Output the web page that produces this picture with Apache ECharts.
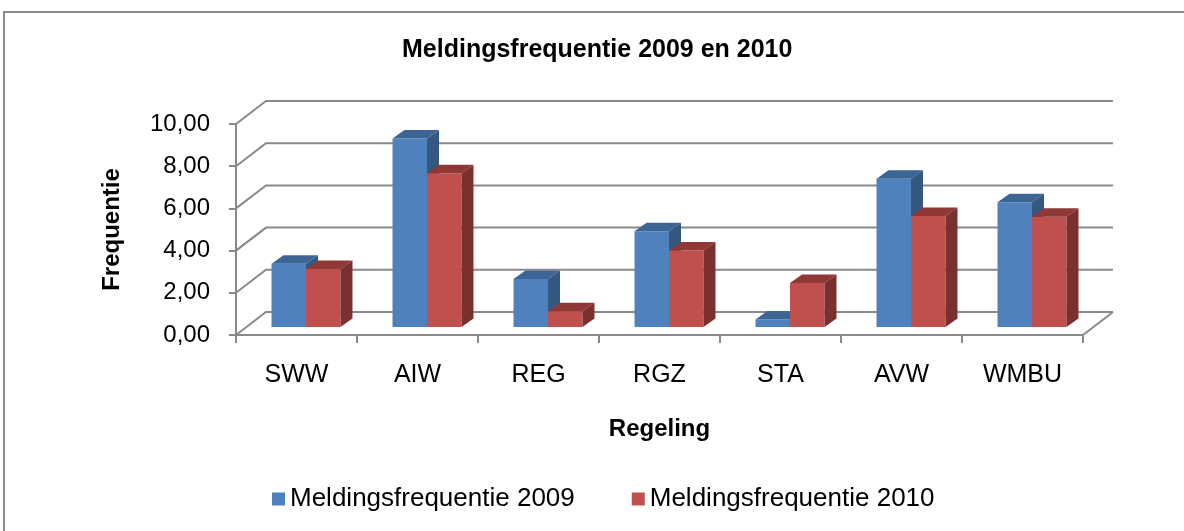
<!DOCTYPE html>
<html>
<head>
<meta charset="utf-8">
<title>Meldingsfrequentie 2009 en 2010</title>
<script src="https://cdn.jsdelivr.net/npm/echarts@6/dist/echarts.min.js"></script>
<style>
  html, body { margin: 0; padding: 0; background: #fff; }
  #main { width: 1184px; height: 531px; }
</style>
</head>
<body>
<div id="main"></div>
<script>
const categories = ["SWW", "AIW", "REG", "RGZ", "STA", "AVW", "WMBU"];
const values2009 = [3.0, 8.93, 2.27, 4.54, 0.35, 7.03, 5.91];
const values2010 = [2.75, 7.29, 0.75, 3.63, 2.08, 5.26, 5.23];
const yTicks = [0, 2, 4, 6, 8, 10];

const FONT = "'Liberation Sans', Arial, sans-serif";
const GRID_LINE = "#898989";
const DEPTH = [30, -23];      // front -> back wall offset
const PLANE = [10.5, -8];     // front -> bar front face offset
const BAR_DEPTH = [12, -8.5]; // bar front -> bar back

const chart = echarts.init(document.getElementById("main"), null, { renderer: "canvas" });

function renderFrame(params, api) {
  const v = api.value(1);
  const band = api.size([1, 0])[0];
  const left = api.coord([0, v])[0] - band / 2;
  const right = api.coord([categories.length - 1, v])[0] + band / 2;
  const y = api.coord([0, v])[1];
  const style = { stroke: GRID_LINE, lineWidth: 2, fill: null };
  const children = [
    { type: "polyline", shape: { points: [[left, y], [left + DEPTH[0], y + DEPTH[1]], [right + DEPTH[0], y + DEPTH[1]]] }, style },
  ];
  if (v === 0) {
    children.push({ type: "line", shape: { x1: right, y1: y, x2: right + DEPTH[0], y2: y + DEPTH[1] }, style });
  }
  return { type: "group", children };
}

function makeBarRender(side, front, top, wall) {
  return function (params, api) {
    const idx = api.value(0);
    const base = api.coord([idx, 0]);
    const tip = api.coord([idx, api.value(1)]);
    const band = api.size([1, 0])[0];
    const w = band * 0.285;
    const x0 = base[0] + PLANE[0] - 1 + (side === 0 ? -w : 0);
    const yb = base[1] + PLANE[1];
    const yt = tip[1] + PLANE[1];
    const dx = BAR_DEPTH[0], dy = BAR_DEPTH[1];
    return {
      type: "group",
      children: [
        { type: "rect", shape: { x: x0, y: yt, width: w, height: yb - yt }, style: { fill: front } },
        { type: "polygon", shape: { points: [[x0, yt], [x0 + w, yt], [x0 + w + dx, yt + dy], [x0 + dx, yt + dy]] }, style: { fill: top } },
        { type: "polygon", shape: { points: [[x0 + w, yt], [x0 + w + dx, yt + dy], [x0 + w + dx, yb + dy], [x0 + w, yb]] }, style: { fill: wall } },
      ],
    };
  };
}

const option = {
  animation: false,
  backgroundColor: "#ffffff",
  title: {
    text: "Meldingsfrequentie 2009 en 2010",
    left: 397,
    top: 33,
    textStyle: { fontFamily: FONT, fontSize: 25, fontWeight: "bold", color: "#000" },
  },
  legend: {
    left: 272,
    top: 486,
    padding: 0,
    itemWidth: 13,
    itemHeight: 13,
    itemGap: 57,
    icon: "rect",
    textStyle: { fontFamily: FONT, fontSize: 26, color: "#000" },
    data: ["Meldingsfrequentie 2009", "Meldingsfrequentie 2010"],
  },
  graphic: [
    {
      type: "rect",
      shape: { x: 4, y: 12, width: 1200, height: 540 },
      style: { fill: null, stroke: "#8c8c8c", lineWidth: 2 },
      silent: true,
    },
  ],
  grid: { left: 236, right: 101, top: 124, bottom: 196 },
  xAxis: {
    type: "category",
    data: categories,
    name: "Regeling",
    nameLocation: "middle",
    nameGap: 82,
    nameTextStyle: { fontFamily: FONT, fontSize: 24, fontWeight: "bold", color: "#000" },
    axisLine: { lineStyle: { color: GRID_LINE, width: 2 } },
    axisTick: { show: true, length: 8, lineStyle: { color: GRID_LINE, width: 2 } },
    axisLabel: { fontFamily: FONT, fontSize: 25, color: "#000", margin: 28 },
  },
  yAxis: {
    type: "value",
    min: 0,
    max: 10,
    interval: 2,
    name: "Frequentie",
    nameLocation: "middle",
    nameGap: 112,
    nameTextStyle: { fontFamily: FONT, fontSize: 24, fontWeight: "bold", color: "#000" },
    axisLine: { show: true, lineStyle: { color: GRID_LINE, width: 2 } },
    axisTick: { show: true, length: 7, lineStyle: { color: GRID_LINE, width: 2 } },
    splitLine: { show: false },
    axisLabel: {
      fontFamily: FONT,
      fontSize: 24,
      color: "#000",
      margin: 26,
      formatter: (v) => v.toFixed(2).replace(".", ","),
    },
  },
  series: [
    {
      type: "custom",
      name: "frame",
      silent: true,
      clip: false,
      z: 1,
      renderItem: renderFrame,
      encode: { x: 0, y: 1 },
      data: yTicks.map((v) => [0, v]),
    },
    {
      type: "custom",
      name: "Meldingsfrequentie 2009",
      clip: false,
      z: 3,
      itemStyle: { color: "#4F81BD" },
      renderItem: makeBarRender(0, "#4F81BD", "#3C6596", "#34587F"),
      encode: { x: 0, y: 1 },
      data: values2009.map((v, i) => [i, v]),
    },
    {
      type: "custom",
      name: "Meldingsfrequentie 2010",
      clip: false,
      z: 4,
      itemStyle: { color: "#C0504D" },
      renderItem: makeBarRender(1, "#C0504D", "#8F3836", "#7A302F"),
      encode: { x: 0, y: 1 },
      data: values2010.map((v, i) => [i, v]),
    },
  ],
};

chart.setOption(option);
</script>
</body>
</html>
